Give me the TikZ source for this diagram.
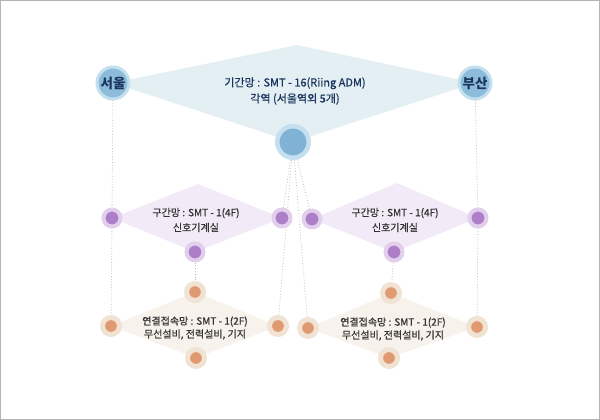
\documentclass[tikz,border=0pt]{standalone}
\usepackage{fontspec}
\setmainfont{Noto Sans CJK KR}
\newfontfamily\semib{Noto Sans CJK KR}[FakeBold=0.7]
\usetikzlibrary{backgrounds}
\definecolor{frame}{HTML}{B4B4B4}
\definecolor{topfill}{HTML}{E4EFF3}
\definecolor{blring}{HTML}{C4E0EE}
\definecolor{blin}{HTML}{8CBCDA}
\definecolor{blcen}{HTML}{80B2D4}
\definecolor{navy}{HTML}{1B355E}
\definecolor{pufill}{HTML}{F2EAF6}
\definecolor{puring}{HTML}{E2CFEC}
\definecolor{puin}{HTML}{AE7FC9}
\definecolor{orfill}{HTML}{F7F2EC}
\definecolor{orring}{HTML}{F1E3D4}
\definecolor{orin}{HTML}{E09A71}
\definecolor{txt}{HTML}{333333}
\definecolor{dotc}{HTML}{BDBDBD}
\tikzset{
  city/.style={circle, inner sep=0pt, minimum size=32pt, line width=3pt, draw=blring, fill=blin,
    text=navy, font=\fontsize{13.5}{13.5}\selectfont\bfseries},
  hub/.style={circle, inner sep=0pt, minimum size=31.5pt, line width=4.5pt, draw=blring, fill=blcen},
  pdot/.style={circle, inner sep=0pt, minimum size=17pt, line width=4pt, draw=puring, fill=puin},
  odot/.style={circle, inner sep=0pt, minimum size=17pt, line width=5pt, draw=orring, fill=orin},
  dotline/.style={draw=dotc, line width=0.8pt, dotted},
  toptext/.style={align=center, text=navy, font=\fontsize{11}{16}\selectfont\semib},
  ptext/.style={align=center, text=txt, font=\fontsize{10}{15}\selectfont\semib},
  otext/.style={align=center, text=txt, font=\fontsize{10}{13}\selectfont\semib},
}
\begin{document}
\begin{tikzpicture}[x=1pt, y=-1pt]
\useasboundingbox (0,0) rectangle (600,420);
\draw[frame, line width=1pt] (0.5,0.5) rectangle (599.5,419.5);
% top
\node[city] (seoul) at (113,83) {서울};
\node[city] (busan) at (475,83) {부산};
\node[hub] (hub) at (293,142) {};
\coordinate (toptip) at (297,45);
% purple left
\node[pdot] (plL) at (112,218) {};
\node[pdot] (plR) at (282,218) {};
\node[pdot] (plB) at (195,252) {};
\coordinate (plT) at (198,184);
% purple right
\node[pdot] (prL) at (312,219) {};
\node[pdot] (prR) at (478,218) {};
\node[pdot] (prB) at (394,252) {};
\coordinate (prT) at (397,183);
% orange left
\node[odot] (olL) at (111,326) {};
\node[odot] (olR) at (278,326) {};
\node[odot] (olT) at (195,292) {};
\node[odot] (olB) at (196,358) {};
% orange right
\node[odot] (orL) at (308,328) {};
\node[odot] (orR) at (477,327) {};
\node[odot] (orT) at (391,293) {};
\node[odot] (orB) at (389,358) {};
\begin{scope}[on background layer]
\fill[topfill] (seoul.center) -- (toptip) -- (busan.center) -- (hub.center) -- cycle;
\fill[pufill] (plL.center) -- (plT) -- (plR.center) -- (plB.center) -- cycle;
\fill[pufill] (prL.center) -- (prT) -- (prR.center) -- (prB.center) -- cycle;
\fill[orfill] (olL.center) -- (olT.center) -- (olR.center) -- (olB.center) -- cycle;
\fill[orfill] (orL.center) -- (orT.center) -- (orR.center) -- (orB.center) -- cycle;
\draw[dotline] (seoul) -- (plL);
\draw[dotline] (plL) -- (olL);
\draw[dotline] (busan) -- (prR);
\draw[dotline] (prR) -- (orR);
\draw[dotline] (hub) -- (plR.center);
\draw[dotline] (hub) -- (prL.center);
\draw[dotline] (hub) -- (olR);
\draw[dotline] (hub) -- (orL);
\draw[dotline] (plB) -- (olT);
\draw[dotline] (prB) -- (orT);
\end{scope}
\node[toptext] (ttop) at (295,91) {기간망 : SMT - 16(Riing ADM)\\각역 (서울역외 5개)};
\node[ptext] (tpl) at (196,220) {구간망 : SMT - 1(4F)\\신호기계실};
\node[ptext] (tpr) at (395,220) {구간망 : SMT - 1(4F)\\신호기계실};
\node[otext] (tol) at (195,328) {연결접속망 : SMT - 1(2F)\\무선설비, 전력설비, 기지};
\node[otext] (tor) at (393,329) {연결접속망 : SMT - 1(2F)\\무선설비, 전력설비, 기지};
\end{tikzpicture}
\end{document}
